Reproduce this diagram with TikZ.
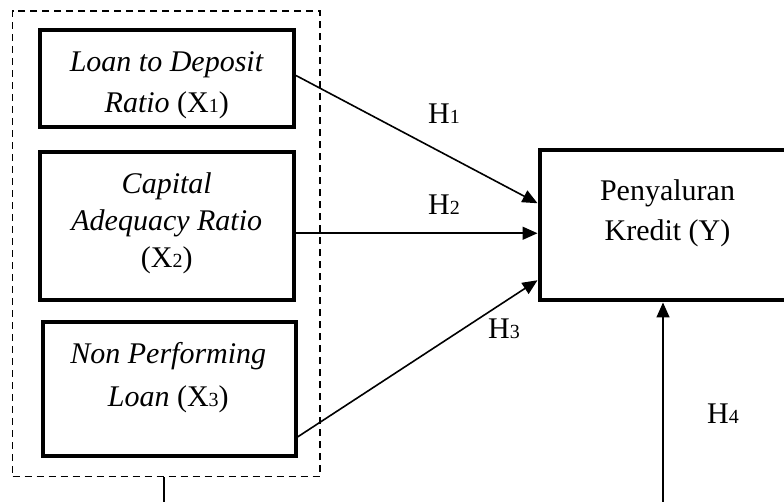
\documentclass[tikz,border=0pt]{standalone}
\usepackage{fontspec}
\setmainfont{Liberation Serif}
\usetikzlibrary{arrows.meta,calc}

% small digit used as an index (X1, H1, ...)
\newcommand\idx[1]{{\fontsize{20}{20}\selectfont #1}}

\begin{document}
\begin{tikzpicture}[x=1pt,y=-1pt,
  varbox/.style={draw, line width=4pt, inner sep=0pt},
  grpbox/.style={draw, dash pattern=on 7pt off 5pt, line width=1.4pt, inner sep=0pt},
  lbl/.style={font=\fontsize{30}{#1}\selectfont, align=center, inner sep=0pt},
  lbl/.default=40,
  hyp/.style={font=\fontsize{30}{36}\selectfont, inner sep=0pt, anchor=base west},
  link/.style={line width=1.6pt, -{Triangle[length=15pt,width=13pt]}},
  plain/.style={line width=1.6pt},
]
\useasboundingbox (0,0) rectangle (784,502);
\clip (0,0) rectangle (784,502);

% group of independent variables
\node[grpbox, minimum width=307.5pt, minimum height=465.7pt] (grp) at (166.25,243.85) {};

% independent variables
\node[varbox, minimum width=254.5pt, minimum height=97pt]   (x1) at (166.75,78.5)   {};
\node[varbox, minimum width=254.5pt, minimum height=148.5pt] (x2) at (166.75,226.25) {};
\node[varbox, minimum width=253pt,   minimum height=134pt]  (x3) at (169,389)       {};

\node[lbl=41] (t1) at (166.75,85.5) {\textit{Loan to Deposit}\\\textit{Ratio} (X\idx{1})};
\node[lbl=37] (t2) at (166.75,223)  {\textit{Capital}\\\textit{Adequacy Ratio}\\(X\idx{2})};
\node[lbl=43] (t3) at (168.3,377.5) {\textit{Non Performing}\\\textit{Loan} (X\idx{3})};

% dependent variable (runs past the right edge)
\node[varbox, minimum width=360.5pt, minimum height=150.5pt] (yv) at (719.75,225.25) {};
\node[lbl=40] (ty) at (667.5,213) {Penyaluran\\Kredit (Y)};

% hypothesis paths
\draw[link] ([yshift=3pt]x1.east) -- ([yshift=22pt]yv.west);
\draw[link] ([yshift=-7pt]x2.east) -- ([yshift=-8pt]yv.west);
\draw[link] ([yshift=21pt]x3.south east) -- ([yshift=-55pt]yv.west);

\coordinate (gout) at (164,520);
\coordinate (hin)  at (663,520);
\draw[plain] (grp.south -| gout) -- (gout);
\draw[link] (hin) -- (hin |- yv.south);

\node[hyp] (h1) at (428,124) {H\idx{1}};
\node[hyp] (h2) at (428,215) {H\idx{2}};
\node[hyp] (h3) at (488,338) {H\idx{3}};
\node[hyp] (h4) at (707,423) {H\idx{4}};
\end{tikzpicture}
\end{document}
